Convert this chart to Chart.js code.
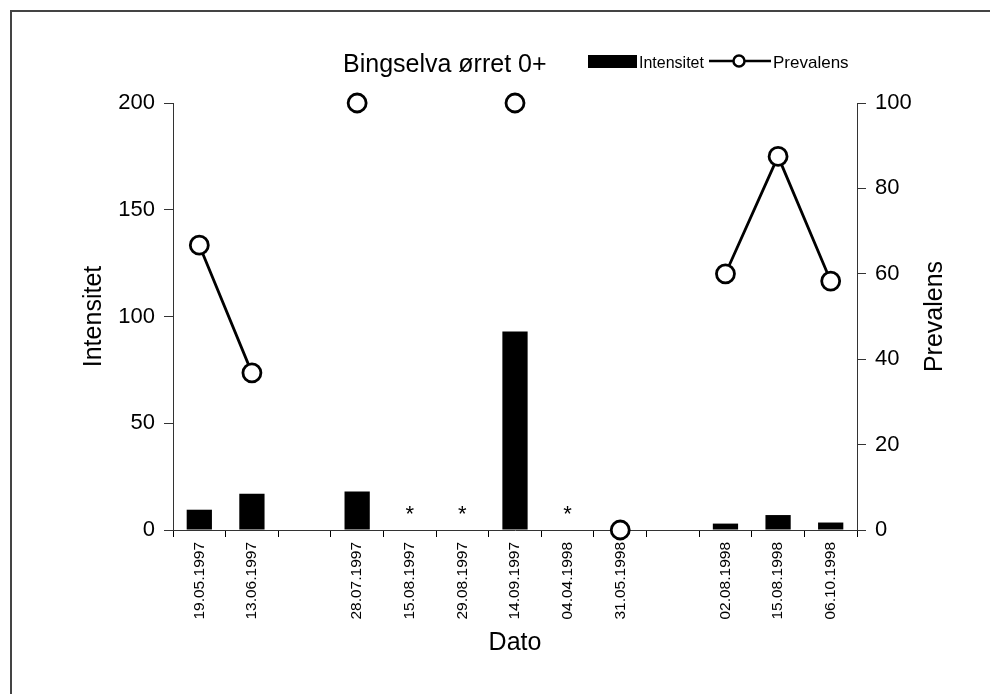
<!DOCTYPE html>
<html>
<head>
<meta charset="utf-8">
<script src="https://cdn.jsdelivr.net/npm/chart.js@4/dist/chart.umd.min.js"></script>
<style>
  html, body { margin: 0; padding: 0; background: #fff; overflow: hidden; }
  #ramme { position: absolute; left: 10px; top: 10px; width: 990px; height: 700px;
           border-top: 2px solid #444; border-left: 2px solid #444; }
  #boks { position: absolute; left: 0; top: 0; width: 990px; height: 694px; }
</style>
</head>
<body>
<div id="ramme"></div>
<div id="boks"><canvas id="bingselva"></canvas></div>
<script>
const datoer = ["19.05.1997", "13.06.1997", "", "28.07.1997", "15.08.1997", "29.08.1997",
  "14.09.1997", "04.04.1998", "31.05.1998", "", "02.08.1998", "15.08.1998", "06.10.1998"];
const intensitet = [9.5, 17, 0, 18, 0, 0, 93, 0, 0, 0, 3, 7, 3.5];
const prevalens = [66.7, 36.8, null, 100, null, null, 100, null, 0, null, 60, 87.5, 58.3];
const stjerneDatoer = ["15.08.1997", "29.08.1997", "04.04.1998"];
const tittel = "Bingselva ørret 0+";

const skrift = "'Liberation Sans', Arial, sans-serif";

// tittel + forklaring i samme linje, tegnet fra datasettene
const plugin_topptekst = {
  id: "topptekst",
  afterDraw: (chart) => {
    const ctx = chart.ctx;
    const ds = chart.data.datasets;
    ctx.save();
    ctx.fillStyle = "#000";
    ctx.textBaseline = "alphabetic";
    ctx.font = "25px " + skrift;
    ctx.fillText(tittel, 343, 72);

    ctx.font = "16px " + skrift;
    // Intensitet (stolpe)
    ctx.fillStyle = ds[1].backgroundColor;
    ctx.fillRect(588, 55, 49, 13);
    ctx.fillStyle = "#000";
    ctx.fillText(ds[1].label, 639, 68);
    // Prevalens (linje med sirkel)
    ctx.strokeStyle = ds[0].borderColor;
    ctx.lineWidth = 2.5;
    ctx.beginPath();
    ctx.moveTo(709, 61);
    ctx.lineTo(771, 61);
    ctx.stroke();
    ctx.beginPath();
    ctx.arc(739, 61, 5.5, 0, Math.PI * 2);
    ctx.fillStyle = "#fff";
    ctx.fill();
    ctx.stroke();
    ctx.fillStyle = "#000";
    ctx.font = "17px " + skrift;
    ctx.fillText(ds[0].label, 773, 68);
    ctx.restore();
  },
};

// stjerner over datoer uten data, og høyre aksetittel lest nedenfra og opp
const plugin_stjerner = {
  id: "stjerner",
  afterDraw: (chart) => {
    const ctx = chart.ctx;
    const x = chart.scales.x;
    const y = chart.scales.y;
    ctx.save();
    ctx.fillStyle = "#000";
    ctx.font = "22px " + skrift;
    ctx.textAlign = "center";
    ctx.textBaseline = "middle";
    stjerneDatoer.forEach((d) => {
      const i = datoer.indexOf(d);
      ctx.fillText("*", x.getPixelForValue(i), y.getPixelForValue(0) - 15);
    });
    const area = chart.chartArea;
    ctx.translate(935, (area.top + area.bottom) / 2);
    ctx.rotate(-Math.PI / 2);
    ctx.font = "25px " + skrift;
    ctx.fillText("Prevalens", 0, 0);
    ctx.restore();
  },
};

const ctx = document.getElementById("bingselva").getContext("2d");
new Chart(ctx, {
  type: "bar",
  data: {
    labels: datoer,
    datasets: [
      {
        type: "line",
        label: "Prevalens",
        data: prevalens,
        yAxisID: "y1",
        borderColor: "#000",
        borderWidth: 2.8,
        backgroundColor: "#fff",
        pointRadius: 9,
        pointBorderWidth: 2.8,
        pointBackgroundColor: "#fff",
        pointBorderColor: "#000",
        spanGaps: false,
        clip: false,
        order: 0,
      },
      {
        label: "Intensitet",
        data: intensitet,
        yAxisID: "y",
        backgroundColor: "#000",
        categoryPercentage: 1,
        barPercentage: 0.48,
        order: 1,
      },
    ],
  },
  options: {
    responsive: true,
    maintainAspectRatio: false,
    animation: false,
    layout: { padding: { top: 103, left: 0, right: 0, bottom: 0 } },
    plugins: {
      legend: { display: false },
      title: { display: false },
      tooltip: { enabled: false },
    },
    scales: {
      x: {
        grid: { drawOnChartArea: false, drawTicks: true, tickLength: 7, color: "#000", offset: true },
        border: { display: true, color: "#333", width: 1 },
        ticks: {
          color: "#000",
          font: { family: skrift, size: 15.5 },
          minRotation: 90,
          maxRotation: 90,
          autoSkip: false,
          padding: 5,
        },
        title: {
          display: true,
          text: "Dato",
          color: "#000",
          font: { family: skrift, size: 25 },
          padding: { top: 0, bottom: 36 },
        },
        afterFit: (s) => {
          s.height = 164;
          s.paddingLeft = 0;
          s.paddingRight = 0;
        },
      },
      y: {
        position: "left",
        min: 0,
        max: 200,
        ticks: { stepSize: 50, color: "#000", font: { family: skrift, size: 22 }, padding: 9 },
        grid: { drawOnChartArea: false, drawTicks: true, tickLength: 9, color: "#333" },
        border: { display: true, color: "#333", width: 1 },
        title: {
          display: true,
          text: "Intensitet",
          color: "#000",
          font: { family: skrift, size: 25 },
          padding: { top: 79, bottom: 0 },
        },
        afterFit: (s) => {
          s.width = 173;
          s.paddingTop = 0;
          s.paddingBottom = 0;
        },
      },
      y1: {
        position: "right",
        min: 0,
        max: 100,
        ticks: { stepSize: 20, color: "#000", font: { family: skrift, size: 22 }, padding: 9 },
        grid: { drawOnChartArea: false, drawTicks: true, tickLength: 9, color: "#333" },
        border: { display: true, color: "#333", width: 1 },
        title: { display: false },
        afterFit: (s) => {
          s.width = 133;
          s.paddingTop = 0;
          s.paddingBottom = 0;
        },
      },
    },
  },
  plugins: [plugin_topptekst, plugin_stjerner],
});
</script>
</body>
</html>
